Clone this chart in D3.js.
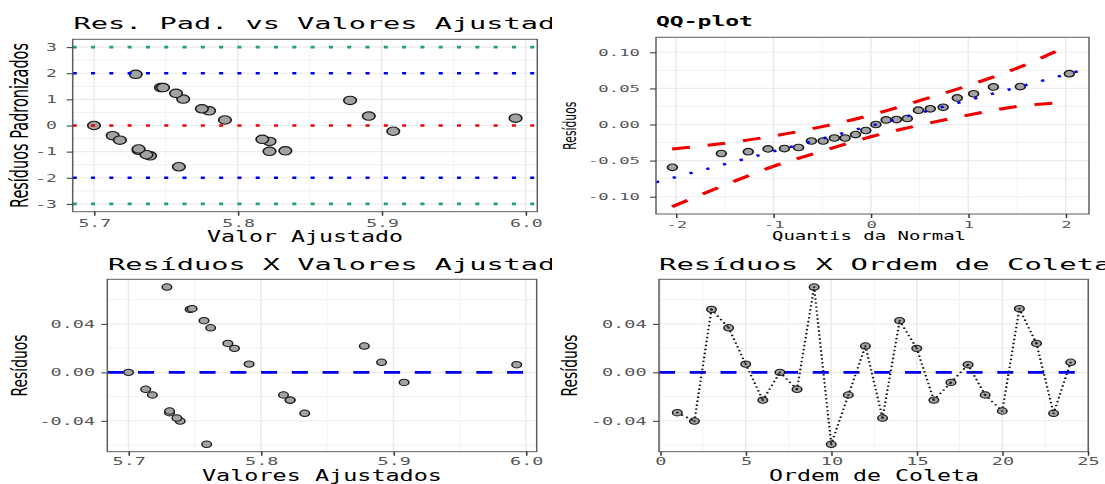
<!DOCTYPE html>
<html><head><meta charset="utf-8">
<script src="https://cdn.jsdelivr.net/npm/d3@7"></script>
<style>html,body{margin:0;padding:0;background:#fff;}svg{display:block;}</style>
</head><body>
<svg id="c" width="1105" height="484"></svg>
<script>
// ---------------- data ----------------
const ordemColeta = [1,2,3,4,5,6,7,8,9,10,11,12,13,14,15,16,17,18,19,20,21,22,23,24];
const valoresAjustados = [5.731,5.739,5.7465,5.762,5.791,5.822,5.700,5.713,5.729,5.759,5.817,5.878,5.7365,5.757,5.780,5.822,5.908,5.993,5.718,5.731,5.748,5.775,5.833,5.891];
const residuos = [-0.0333,-0.0402,0.0520,0.0368,0.0068,-0.0229,0.0000,-0.0140,0.0704,-0.0594,-0.0187,0.0217,-0.0377,0.0426,0.0198,-0.0229,-0.0083,0.0063,-0.0187,-0.0319,0.0525,0.0239,-0.0338,0.0083];
const residuosPadronizados = [-0.95,-1.16,1.45,1.01,0.21,-0.61,0.00,-0.39,1.96,-1.58,-0.53,0.96,-1.12,1.23,0.56,-0.99,-0.22,0.28,-0.56,-0.90,1.45,0.64,-0.97,0.36];
const quantisNormal = [-2.037,-1.534,-1.258,-1.055,-0.887,-0.742,-0.610,-0.489,-0.374,-0.264,-0.157,-0.052,0.052,0.157,0.264,0.374,0.489,0.610,0.742,0.887,1.055,1.258,1.534,2.037];
const qqIntercepto = -0.0018;
const qqInclinacao = 0.0355;
const bandaX   = [-2.04,-1.5,-1.0,-0.5,0.0,0.5,1.0,1.5,1.94];
const bandaSup = [-0.034,-0.026,-0.016,-0.003,0.013,0.033,0.054,0.078,0.104];
const bandaInf = [-0.114,-0.084,-0.058,-0.037,-0.017,-0.001,0.013,0.025,0.030];
const niveisPadronizados = [-3,-2,0,2,3];
const ticksPad = [-3,-2,-1,0,1,2,3];
const ticksAjust = [5.7,5.8,5.9,6.0];
const ticksQQx = [-2,-1,0,1,2];
const ticksQQy = [-0.10,-0.05,0.00,0.05,0.10];
const ticksRes = [-0.04,0.00,0.04];
const ticksOrdem = [0,5,10,15,20,25];
const titulos = ["Res. Pad. vs Valores Ajustados","QQ-plot","Resíduos X Valores Ajustados","Resíduos X Ordem de Coleta"];
const titulosX = ["Valor Ajustado","Quantis da Normal","Valores Ajustados","Ordem de Coleta"];
const titulosY = ["Resíduos Padronizados","Resíduos","Resíduos","Resíduos"];

// ---------------- drawing ----------------
const SX = 1.5; // the reference is horizontally stretched
const MONO = "'DejaVu Sans Mono', monospace";
const SANS = "'DejaVu Sans', sans-serif";
const svg = d3.select('#c');
const defs = svg.append('defs');
defs.append('clipPath').attr('id','clipL').append('rect').attr('x',0).attr('y',0).attr('width',552/SX).attr('height',484);
defs.append('clipPath').attr('id','clipR').append('rect').attr('x',552/SX).attr('y',0).attr('width',(1105-552)/SX).attr('height',484);
const root = svg.append('g').attr('transform',`scale(${SX},1)`);

const rows = ordemColeta.map((o,i)=>({o, fit:valoresAjustados[i], res:residuos[i], pad:residuosPadronizados[i]}));
const resOrd = residuos.slice().sort((a,b)=>a-b);
const qqRows = quantisNormal.map((q,i)=>({q, r:resOrd[i]}));

function pts(g, data, xf, yf, r, sw){
  g.append('g').selectAll('circle').data(data).join('circle')
    .attr('cx',xf).attr('cy',yf).attr('r',r)
    .attr('fill','#A3A3A3').attr('stroke','#1A1A1A').attr('stroke-width',sw);
}

function addPanel(c, drawData){
  const g = root.append('g').attr('clip-path',`url(#${c.clip})`);
  const [bx0,bx1,by0,by1] = c.box;
  const x = d3.scaleLinear().domain(c.xDom).range([bx0/SX,bx1/SX]);
  const y = d3.scaleLinear().domain(c.yDom).range([by1,by0]);
  const gg = g.append('g');
  const grid = (vals, vert, w) => gg.append('g').selectAll('line').data(vals).join('line')
    .attr('x1', d => vert ? x(d) : bx0/SX).attr('x2', d => vert ? x(d) : bx1/SX)
    .attr('y1', d => vert ? by0 : y(d)).attr('y2', d => vert ? by1 : y(d))
    .attr('stroke','#EBEBEB').attr('stroke-width',w);
  grid(c.xMinor,true,0.5); grid(c.yMinor,false,0.6);
  grid(c.xMajor,true,1.0); grid(c.yMajor,false,1.1);
  const dg = g.append('g');
  drawData(dg, x, y);
  g.append('rect').attr('x',bx0/SX).attr('y',by0).attr('width',(bx1-bx0)/SX).attr('height',by1-by0)
    .attr('fill','none').attr('stroke','#5E5E5E').attr('stroke-width',1);
  const styleAxis = (sel, fmt) => {
    sel.select('.domain').remove();
    sel.selectAll('line').attr('stroke','#333');
    sel.selectAll('text').attr('fill','#575757').attr('font-family',MONO).attr('font-size',c.tickFs)
      .attr('textLength', d => fmt(d).length*c.tickAdv/SX).attr('lengthAdjust','spacingAndGlyphs');
  };
  g.append('g').attr('transform',`translate(${bx0/SX},0)`)
    .call(d3.axisLeft(y).tickValues(c.yMajor).tickFormat(c.yFmt).tickSize(4).tickPadding(c.yPad))
    .call(s => styleAxis(s, c.yFmt));
  g.append('g').attr('transform',`translate(0,${by1})`)
    .call(d3.axisBottom(x).tickValues(c.xMajor).tickFormat(c.xFmt).tickSize(4).tickPadding(c.xPad))
    .call(s => styleAxis(s, c.xFmt));
  // title
  g.append('text').attr('x',c.titleX/SX).attr('y',c.titleBase).text(c.title)
    .attr('font-family',MONO).attr('font-size',c.titleFs).attr('font-weight',c.titleBold?'bold':'normal')
    .attr('fill','#000').attr('textLength',c.titleLen/SX).attr('lengthAdjust','spacingAndGlyphs');
  // x title
  g.append('text').attr('x',c.xTitleX/SX).attr('y',c.xTitleBase).text(c.xTitle)
    .attr('text-anchor','middle').attr('font-family',MONO).attr('font-size',c.xTitleFs)
    .attr('fill','#000').attr('textLength',c.xTitleLen/SX).attr('lengthAdjust','spacingAndGlyphs');
  // y title
  g.append('text').attr('transform',`translate(${c.yTitleX/SX},${(by0+by1)/2}) rotate(-90)`).text(c.yTitle)
    .attr('text-anchor','middle').attr('font-family',SANS).attr('font-size',c.yTitleFs)
    .attr('fill','#000').attr('textLength',c.yTitleLen).attr('lengthAdjust','spacingAndGlyphs');
}

const fmtInt = d => String(d);
const fmt2 = d => (Math.abs(d) < 1e-9 ? 0 : d).toFixed(2);
const fmt1 = d => d.toFixed(1);

// Panel A: standardized residuals vs fitted
addPanel({
  clip:'clipL', box:[72.7,537.3,39.3,211.7], xDom:[5.6852,6.0081], yDom:[-3.3,3.3],
  xMajor:ticksAjust, xMinor:[5.75,5.85,5.95], yMajor:ticksPad, yMinor:[-2.5,-1.5,-0.5,0.5,1.5,2.5],
  xFmt:fmt1, yFmt:fmtInt, tickFs:10.5, tickAdv:10.9, yPad:6.5, xPad:3.5,
  title:titulos[0], titleX:73.5, titleBase:29.3, titleFs:16.5, titleLen:titulos[0].length*17.2,
  xTitle:titulosX[0], xTitleX:305, xTitleBase:241.7, xTitleFs:16, xTitleLen:196,
  yTitle:titulosY[0], yTitleX:28, yTitleFs:16.5, yTitleLen:165
}, (g,x,y) => {
  pts(g, rows, d=>x(d.fit), d=>y(d.pad), 4.2, 1.1);
  g.append('g').selectAll('line').data(niveisPadronizados).join('line')
    .attr('x1',x.range()[0]).attr('x2',x.range()[1]).attr('y1',d=>y(d)).attr('y2',d=>y(d))
    .attr('stroke', d => Math.abs(d)===3 ? '#22A07A' : (Math.abs(d)===2 ? '#0000F0' : '#F00000'))
    .attr('stroke-width',2.6).attr('stroke-dasharray','2.7 9.5');
});

// Panel B: QQ-plot
addPanel({
  clip:'clipR', box:[656,1089,37.3,214], xDom:[-2.205,2.239], yDom:[-0.124,0.1208],
  xMajor:ticksQQx, xMinor:[-1.5,-0.5,0.5,1.5], yMajor:ticksQQy, yMinor:[-0.075,-0.025,0.025,0.075],
  xFmt:fmtInt, yFmt:fmt2, tickFs:9.5, tickAdv:10.4, yPad:6.7, xPad:3.3,
  title:titulos[1], titleX:656, titleBase:26.5, titleFs:14, titleBold:true, titleLen:97,
  xTitle:titulosX[1], xTitleX:869, xTitleBase:240.5, xTitleFs:11.5, xTitleLen:194,
  yTitle:titulosY[1], yTitleX:576, yTitleFs:12, yTitleLen:48
}, (g,x,y) => {
  pts(g, qqRows, d=>x(d.q), d=>y(d.r), 3.3, 1.1);
  const [d0,d1] = x.domain();
  g.append('path').attr('d', d3.line()([[x(d0),y(qqIntercepto+qqInclinacao*d0)],[x(d1),y(qqIntercepto+qqInclinacao*d1)]]))
    .attr('fill','none').attr('stroke','#0000F0').attr('stroke-width',2.4).attr('stroke-dasharray','2.2 9.8');
  const band = d3.line().x((d,i)=>x(bandaX[i])).y(d=>y(d)).curve(d3.curveMonotoneX);
  [bandaSup,bandaInf].forEach(b => g.append('path').attr('d',band(b))
    .attr('fill','none').attr('stroke','#F00000').attr('stroke-width',3).attr('stroke-dasharray','12 12'));
});

// Panel C: residuals vs fitted
addPanel({
  clip:'clipL', box:[107.3,536.7,279.3,451.7], xDom:[5.684,6.0081], yDom:[-0.0655,0.0768],
  xMajor:ticksAjust, xMinor:[5.75,5.85,5.95], yMajor:ticksRes, yMinor:[-0.06,-0.02,0.02,0.06],
  xFmt:fmt1, yFmt:fmt2, tickFs:10, tickAdv:11.1, yPad:4.2, xPad:2.2,
  title:titulos[2], titleX:108, titleBase:270, titleFs:16.5, titleLen:titulos[2].length*17.2,
  xTitle:titulosX[2], xTitleX:322, xTitleBase:481, xTitleFs:16, xTitleLen:240,
  yTitle:titulosY[2], yTitleX:26.7, yTitleFs:14, yTitleLen:62
}, (g,x,y) => {
  g.append('line').attr('x1',x.range()[0]).attr('x2',x.range()[1]).attr('y1',y(0)).attr('y2',y(0))
    .attr('stroke','#0000EE').attr('stroke-width',2.6).attr('stroke-dasharray','10.7 9.8');
  pts(g, rows, d=>x(d.fit), d=>y(d.res), 3.2, 1);
});

// Panel D: residuals vs collection order
addPanel({
  clip:'clipR', box:[659,1088.3,279.3,451.7], xDom:[-0.07,25.03], yDom:[-0.0655,0.0768],
  xMajor:ticksOrdem, xMinor:[2.5,7.5,12.5,17.5,22.5], yMajor:ticksRes, yMinor:[-0.06,-0.02,0.02,0.06],
  xFmt:fmtInt, yFmt:fmt2, tickFs:10, tickAdv:11.2, yPad:4.2, xPad:2.2,
  title:titulos[3], titleX:659, titleBase:270, titleFs:16.5, titleLen:titulos[3].length*17.4,
  xTitle:titulosX[3], xTitleX:874, xTitleBase:481, xTitleFs:16, xTitleLen:210,
  yTitle:titulosY[3], yTitleX:576.5, yTitleFs:14, yTitleLen:62
}, (g,x,y) => {
  g.append('line').attr('x1',x.range()[0]).attr('x2',x.range()[1]).attr('y1',y(0)).attr('y2',y(0))
    .attr('stroke','#0000EE').attr('stroke-width',2.6).attr('stroke-dasharray','10.7 9.8');
  pts(g, rows, d=>x(d.o), d=>y(d.res), 3.2, 1);
  const seg = d3.line().x(d=>x(d.o)).y(d=>y(d.res));
  g.append('g').selectAll('path').data(d3.pairs(rows)).join('path')
    .attr('d', d => seg(d)).attr('fill','none').attr('stroke','#1A1A1A')
    .attr('stroke-width',1.7).attr('stroke-linecap','round').attr('stroke-dasharray','0 4');
});
</script>
</body></html>
